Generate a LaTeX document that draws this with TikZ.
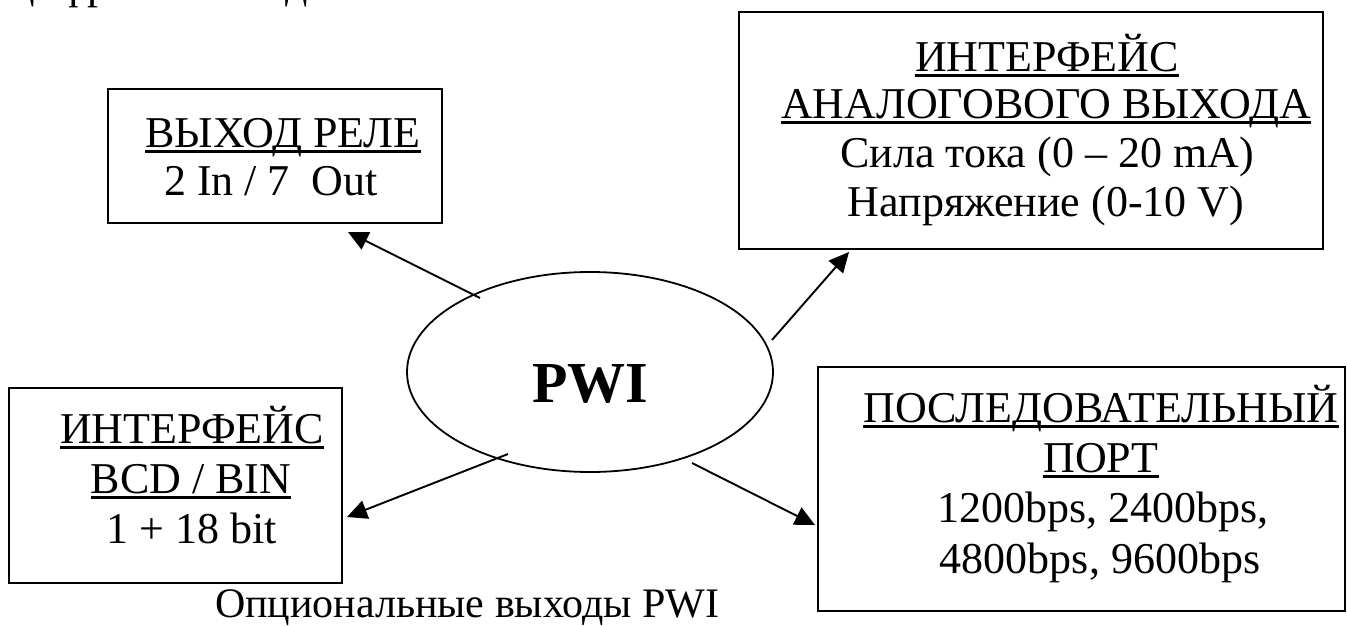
\documentclass[tikz,border=0pt]{standalone}
\usepackage{fontspec}
\setmainfont{Liberation Serif}
\usetikzlibrary{shapes.geometric,arrows.meta}
\newcommand\myul[1]{\leavevmode\setbox0\hbox{#1}\rlap{\rule[-5.8pt]{\wd0}{2.7pt}}\box0}
\tikzset{
  box/.style={draw, line width=1.8pt, inner sep=0pt, outer sep=0pt},
  txt/.style={inner sep=0pt, outer sep=0pt, anchor=base, font=\fontsize{44}{50}\selectfont},
  arr/.style={line width=1.9pt, -{Triangle[length=20pt,width=19pt]}},
}
\begin{document}
\begin{tikzpicture}[x=1pt,y=-1pt]
\useasboundingbox (0,0) rectangle (1347,626);
\begin{scope}
\clip (0,0) rectangle (1347,626);
\node[txt, anchor=base west] (toptxt) at (12,-1) {цифрового входа};
\end{scope}
% boxes
\node[box, minimum width=334pt, minimum height=134pt] (relay) at (275,156) {};
\node[box, minimum width=584pt, minimum height=237pt] (analog) at (1031,130.5) {};
\node[box, minimum width=333pt, minimum height=195pt] (bcd) at (175.5,485.5) {};
\node[box, minimum width=527pt, minimum height=244pt] (serial) at (1081.5,489) {};
\node[draw, ellipse, line width=1.8pt, inner sep=0pt, outer sep=0pt, minimum width=366pt, minimum height=200pt] (pwi) at (590,372) {};
% texts
\node[txt] (relayA) at (283,147) {\myul{ВЫХОД РЕЛЕ}};
\node[txt] (relayB) at (271,195) {2 In / 7\ \ Out};
\node[txt] (anA) at (1047,71) {\myul{ИНТЕРФЕЙС}};
\node[txt] (anB) at (1046,118) {\myul{АНАЛОГОВОГО ВЫХОДА}};
\node[txt] (anC) at (1047,167) {Сила тока (0 – 20 mA)};
\node[txt] (anD) at (1046,216) {Напряжение (0-10 V)};
\node[txt] (bcdA) at (192,443) {\myul{ИНТЕРФЕЙС}};
\node[txt] (bcdB) at (191,493) {\myul{BCD / BIN}};
\node[txt] (bcdC) at (192,543) {1 + 18 bit};
\node[txt] (serA) at (1101,422) {\myul{ПОСЛЕДОВАТЕЛЬНЫЙ}};
\node[txt] (serB) at (1101,472) {\myul{ПОРТ}};
\node[txt] (serC) at (1103,522) {1200bps, 2400bps,};
\node[txt] (serD) at (1100,573) {4800bps, 9600bps};
\node[txt, font=\fontsize{58}{60}\selectfont\bfseries] (pwiT) at (590,402) {PWI};
\node[txt, anchor=base west, font=\fontsize{42}{50}\selectfont] (caption) at (215,617) {Опциональные выходы PWI};
% arrow ends
\coordinate (s1) at ([shift={(-110,-74)}]pwi.center);
\coordinate (s2) at ([shift={(182,-32)}]pwi.center);
\coordinate (s3) at ([shift={(-82,82)}]pwi.center);
\coordinate (s4) at ([shift={(102,91)}]pwi.center);
\coordinate (e1) at ([shift={(240,9)}]relay.south west);
\coordinate (e2) at ([shift={(110,3)}]analog.south west);
\coordinate (e3) at ([shift={(5,31.5)}]bcd.east);
\coordinate (e4) at ([shift={(-3,36)}]serial.west);
\draw[arr] (s1) -- (e1);
\draw[arr] (s2) -- (e2);
\draw[arr] (s3) -- (e3);
\draw[arr] (s4) -- (e4);
\end{tikzpicture}
\end{document}
